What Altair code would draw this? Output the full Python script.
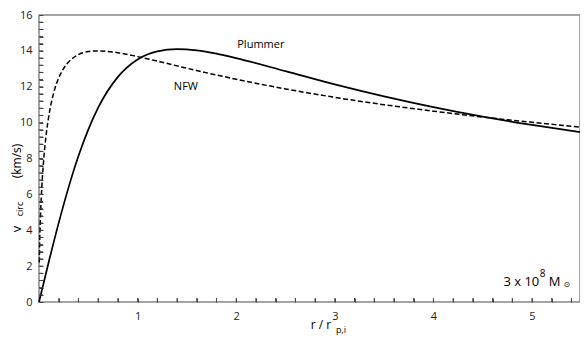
import altair as alt
import pandas as pd

# Plummer curve (solid)
plummer_r = [0, 0.1, 0.2, 0.3, 0.4, 0.5, 0.6, 0.8, 1.0, 1.2, 1.4, 1.6, 1.8, 2.0,
             2.5, 3.0, 3.5, 4.0, 4.5, 5.0, 5.487]
plummer_v = [0, 2.26, 4.41, 6.39, 8.14, 9.61, 10.83, 12.55, 13.52, 13.97, 14.10, 14.03,
             13.85, 13.60, 12.87, 12.13, 11.46, 10.86, 10.33, 9.87, 9.47]

# NFW curve (dashed)
nfw_r = [0.003, 0.005, 0.01, 0.02, 0.035, 0.05, 0.075, 0.1, 0.15, 0.2, 0.25, 0.3, 0.4,
         0.5, 0.6, 0.8, 1.0, 1.2, 1.5, 2.0, 2.5, 3.0, 3.5, 4.0, 4.5, 5.0, 5.487]
nfw_v = [2.2, 2.83, 3.95, 5.46, 6.99, 8.09, 9.43, 10.39, 11.68, 12.49, 13.02, 13.38, 13.79,
         13.96, 14.00, 13.90, 13.68, 13.43, 13.03, 12.42, 11.88, 11.41, 11.00, 10.64,
         10.31, 10.02, 9.75]

# axis tick positions (every 0.2 on x, every 0.4 on y); labels on integers / even numbers
x_ticks = [round(0.2 * i, 1) for i in range(1, 28)]
y_ticks = [round(0.4 * i, 1) for i in range(0, 41)]

W, H = 541, 287
X_MAX = 5.487
Y_MAX = 16
FONT = "Open Sans"
TICK = 4

xs = alt.Scale(domain=[0, X_MAX], nice=False, zero=False)
ys = alt.Scale(domain=[0, Y_MAX], nice=False)

x_axis = alt.Axis(values=x_ticks, title=None, domain=False, grid=False,
                  ticks=True, tickSize=TICK, offset=-TICK, tickColor="#444", tickWidth=1,
                  labelExpr="abs(datum.value - round(datum.value)) < 1e-6 ? format(datum.value, 'd') : ''",
                  labelOverlap=False, labelPadding=8, labelFontSize=11,
                  labelFont=FONT, labelColor="#222")
y_axis = alt.Axis(values=y_ticks, title=None, domain=False, grid=False,
                  ticks=True, tickSize=TICK, offset=-TICK, tickColor="#444", tickWidth=1,
                  labelExpr="abs(datum.value / 2 - round(datum.value / 2)) < 1e-6 ? format(datum.value, 'd') : ''",
                  labelOverlap=False, labelPadding=7, labelFontSize=11,
                  labelFont=FONT, labelColor="#222")


def X(field):
    return alt.X(field, type="quantitative", scale=xs, axis=x_axis)


def Y(field):
    return alt.Y(field, type="quantitative", scale=ys, axis=y_axis)


df_p = pd.DataFrame({"r": plummer_r, "v": plummer_v})
df_n = pd.DataFrame({"r": nfw_r, "v": nfw_v})

plummer = alt.Chart(df_p).mark_line(color="black", strokeWidth=1.7, interpolate="monotone").encode(
    x=X("r"), y=Y("v"))
nfw = alt.Chart(df_n).mark_line(color="black", strokeWidth=1.5, strokeDash=[5, 2.5],
                                interpolate="monotone").encode(x=X("r"), y=Y("v"))

# inner tick marks drawn as short rules (length expressed through the scales)
tx_len = TICK * Y_MAX / H
ty_len = TICK * X_MAX / W
df_xt = pd.DataFrame({"t": x_ticks})
df_xt["a"] = 0.0
df_xt["b"] = tx_len
xt = alt.Chart(df_xt).mark_rule(color="#444", strokeWidth=1).encode(
    x=X("t"), y=Y("a"), y2="b")
df_yt = pd.DataFrame({"t": y_ticks[1:-1]})
df_yt["a"] = 0.0
df_yt["b"] = ty_len
yt = alt.Chart(df_yt).mark_rule(color="#444", strokeWidth=1).encode(
    y=Y("t"), x=X("a"), x2="b")

# curve labels
lab_df = pd.DataFrame({"r": [2.25, 1.49], "v": [14.3, 12.0], "t": ["Plummer", "NFW"]})
labels = alt.Chart(lab_df).mark_text(font=FONT, fontSize=11, color="black").encode(
    x=X("r"), y=Y("v"), text="t:N")


# mass annotation
def ann(t, r, v, size, font=FONT):
    return alt.Chart(pd.DataFrame({"r": [r], "v": [v], "t": [t]})).mark_text(
        font=font, fontSize=size, align="left", baseline="middle", color="black").encode(
        x=X("r"), y=Y("v"), text="t:N")


mass_main = ann("3 x 10", 4.71, 1.1, 13)
mass_exp = ann("8", 5.08, 1.55, 10)
mass_m = ann("M", 5.17, 1.1, 13)
mass_sun = ann("⊙", 5.32, 0.95, 8, font="DejaVu Sans")


# axis titles built from pieces (pixel positions relative to the plot area)
def txt(t, x, y, size, angle=0, align="center"):
    return alt.Chart(pd.DataFrame({"t": [t]})).mark_text(
        font=FONT, fontSize=size, angle=angle, align=align, baseline="middle", color="black"
    ).encode(text="t:N", x=alt.value(x), y=alt.value(y))


yt1 = txt("v", -22, 214, 13, angle=270)
yt2 = txt("circ", -19, 194, 9, angle=270)
yt3 = txt("(km/s)", -22, 146, 12, angle=270)
xt1 = txt("r / r", 282, 310, 12)
xt2 = txt("p,i", 302, 315, 9)

chart = alt.layer(
    plummer, nfw, xt, yt, labels, mass_main, mass_exp, mass_m, mass_sun,
    yt1, yt2, yt3, xt1, xt2
).properties(
    width=W, height=H,
    autosize=alt.AutoSizeParams(type="none"),
    padding={"left": 31, "top": 7, "right": 0, "bottom": 33},
).configure_view(
    stroke="#888", strokeWidth=1.5
)

chart.save("out.html", embed_options={"renderer": "svg", "actions": False})
